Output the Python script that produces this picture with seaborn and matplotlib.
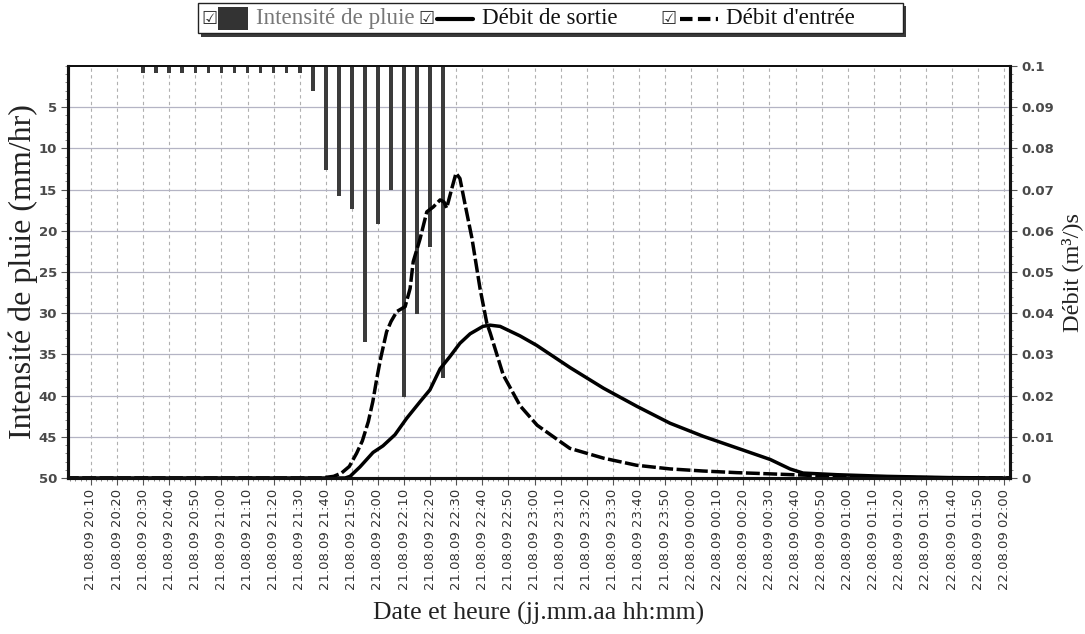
import matplotlib
matplotlib.use("Agg")
import matplotlib.pyplot as plt
from matplotlib.patches import Rectangle
from matplotlib.lines import Line2D
from matplotlib.ticker import MultipleLocator
import pandas as pd
import seaborn as sns

# ---- data -----------------------------------------------------------------
# time axis in minutes after 21.08.09 20:00

# rainfall intensity (mm/hr), 5-minute blocks
rain_minutes = [30, 35, 40, 45, 50, 55, 60, 65, 70, 75, 80, 85,
                90, 95, 100, 105, 110, 115, 120, 125, 130, 135, 140, 145]
rain_mm_hr = [0.8, 0.8, 0.8, 0.8, 0.8, 0.8, 0.8, 0.8, 0.8, 0.8, 0.8, 0.8,
              0.8, 3.0, 12.6, 15.8, 17.3, 33.5, 19.2, 15.1, 40.2, 30.1, 22.0, 37.9]

# inflow (m3/s)
inflow_minutes = [0, 98, 103, 106, 109, 111.8, 114, 116.3, 118, 119.5, 121,
                  123.3, 125, 127.2, 130.4, 132.3, 133.5, 136.1, 138.7, 141.2,
                  143.8, 145.3, 146.3, 148.3, 149.9, 151.4, 153.4, 156, 159.1,
                  161.7, 163, 168, 174.5, 181, 193.5, 206.5, 219, 232, 244.5,
                  257.5, 270.5, 283, 301, 320, 362]
inflow_m3s = [0, 0, 0.0004, 0.0012, 0.0028, 0.0060, 0.0090, 0.0137, 0.0185,
              0.0240, 0.0290, 0.0355, 0.0380, 0.0404, 0.0416, 0.0460, 0.0525,
              0.0580, 0.0646, 0.0658, 0.0675, 0.0670, 0.0655, 0.0703, 0.0740,
              0.0727, 0.0663, 0.0582, 0.0460, 0.0376, 0.0352, 0.0250, 0.0175,
              0.0128, 0.0072, 0.0048, 0.0031, 0.0022, 0.0017, 0.0013, 0.0010,
              0.0007, 0.0003, 0.0001, 0]

# outflow (m3/s)
outflow_minutes = [0, 107.4, 109.3, 113.1, 118.1, 121.9, 126.5, 131, 136.1,
                   139.9, 143.8, 147.6, 151.4, 155.3, 160.2, 162.9, 166.8,
                   174.4, 180.8, 193.6, 206.4, 219.2, 231.9, 244.7, 257.5,
                   270.3, 277.9, 282.9, 295.9, 315.1, 339, 362]
outflow_m3s = [0, 0, 0.0004, 0.0027, 0.0062, 0.0078, 0.0105, 0.0145, 0.0185,
               0.0214, 0.0265, 0.0295, 0.0327, 0.0350, 0.0368, 0.0371, 0.0368,
               0.0345, 0.0322, 0.0268, 0.0218, 0.0174, 0.0133, 0.0101, 0.0073,
               0.0045, 0.0022, 0.0012, 0.0008, 0.0004, 0.0001, 0]

# axis ticks
x_tick_minutes = list(range(10, 361, 10))
x_tick_labels = list(pd.date_range("2009-08-21 20:10", "2009-08-22 02:00",
                                   freq="10min").strftime("%d.%m.%y %H:%M"))
rain_ticks = [5, 10, 15, 20, 25, 30, 35, 40, 45, 50]
rain_tick_labels = ["5", "10", "15", "20", "25", "30", "35", "40", "45", "50"]
flow_ticks = [0, 0.01, 0.02, 0.03, 0.04, 0.05, 0.06, 0.07, 0.08, 0.09, 0.1]
flow_tick_labels = ["0", "0.01", "0.02", "0.03", "0.04", "0.05", "0.06",
                    "0.07", "0.08", "0.09", "0.1"]

# ---- figure ---------------------------------------------------------------
sns.set_style("white")
plt.rcParams["font.family"] = ["DejaVu Sans"]
SERIF = ["Liberation Serif", "DejaVu Serif"]

W, H = 1085, 634
fig = plt.figure(figsize=(W / 100, H / 100), dpi=100)
L, R, T, B = 68, 1010, 66, 478
ax = fig.add_axes([L / W, 1 - B / H, (R - L) / W, (B - T) / H])

# rainfall bars hanging from the top of the inverted left axis
sns.barplot(x=rain_minutes, y=rain_mm_hr, native_scale=True, width=0.28,
            color="#3b3b3b", saturation=1, linewidth=0, errorbar=None, ax=ax)
ax.set_xlim(1.2, 362.2)
ax.set_ylim(50, 0)
ax.set_axisbelow(True)

ax.set_xticks(x_tick_minutes)
ax.set_xticklabels(x_tick_labels, rotation=90, fontsize=9.5, color="#333333")
ax.xaxis.set_minor_locator(MultipleLocator(2))
ax.set_yticks(rain_ticks)
ax.set_yticklabels(rain_tick_labels, fontsize=9.5, color="#4a4a4a",
                   fontweight="bold")
ax.yaxis.set_minor_locator(MultipleLocator(1))
ax.tick_params(which="major", direction="out", length=5, width=0.8,
               color="#555555", left=True, bottom=True, pad=3)
ax.tick_params(which="minor", direction="out", length=2.5, width=0.6,
               color="#777777", left=True, bottom=True)
ax.grid(axis="y", which="major", color="#b4b4c4", lw=0.9, ls="-")
ax.grid(axis="x", which="major", color="#b0b0b0", lw=0.8, ls=(0, (3, 3)))
ax.set_xlabel("Date et heure (jj.mm.aa hh:mm)", family=SERIF, fontsize=18.5,
              color="#222222", labelpad=8)
ax.set_ylabel("Intensité de pluie (mm/hr)", family=SERIF, fontsize=23,
              color="#222222")
ax.yaxis.set_label_coords(-0.032, 0.5)

# flows on the right-hand axis
ax2 = ax.twinx()
sns.lineplot(x=outflow_minutes, y=outflow_m3s, color="black", lw=2.5,
             estimator=None, ax=ax2)
sns.lineplot(x=inflow_minutes, y=inflow_m3s, color="black", lw=2.5,
             linestyle=(0, (4, 1)), estimator=None, ax=ax2)
ax2.set_ylim(0, 0.1)
ax2.set_xlim(1.2, 362.2)
ax2.set_yticks(flow_ticks)
ax2.set_yticklabels(flow_tick_labels, fontsize=9.5, color="#4a4a4a",
                    fontweight="bold")
ax2.yaxis.set_minor_locator(MultipleLocator(0.002))
ax2.tick_params(which="major", direction="out", length=5, width=0.8,
                color="#555555", right=True, pad=3)
ax2.tick_params(which="minor", direction="out", length=2.5, width=0.6,
                color="#777777", right=True)
ax2.grid(False)
ax2.set_ylabel("Débit (m³/)s", family=SERIF, fontsize=17.5, color="#222222",
               labelpad=5)

for a in (ax, ax2):
    for side, sp in a.spines.items():
        sp.set_visible(True)
        sp.set_color("#111111")
        sp.set_linewidth(1.4 if side == "top" else 2.2)

# ---- legend box at the top ------------------------------------------------
def fx(x):
    return x / W


def fy(y):
    return 1 - y / H


fig.add_artist(Rectangle((fx(201), fy(37)), fx(906) - fx(201), fy(6) - fy(37),
                         transform=fig.transFigure, facecolor="#3a3a3a",
                         edgecolor="none"))
fig.add_artist(Rectangle((fx(198), fy(33)), fx(903) - fx(198), fy(3) - fy(33),
                         transform=fig.transFigure, facecolor="white",
                         edgecolor="#222222", lw=1.0))

ymid = fy(18.5)
for cx in (209, 426, 668):
    fig.text(fx(cx), ymid, "☑", ha="center", va="center", fontsize=13,
             color="#333333", family=["DejaVu Sans"])
fig.add_artist(Rectangle((fx(218), fy(30)), fx(248) - fx(218), fy(7) - fy(30),
                         transform=fig.transFigure, facecolor="#333333",
                         edgecolor="none"))
fig.text(fx(256), ymid, "Intensité de pluie", ha="left", va="center",
         fontsize=16.6, color="#777777", family=SERIF)
fig.add_artist(Line2D([fx(437), fx(473)], [ymid, ymid], color="black", lw=3,
                      transform=fig.transFigure))
fig.text(fx(482), ymid, "Débit de sortie", ha="left", va="center",
         fontsize=16.6, color="#111111", family=SERIF)
fig.add_artist(Line2D([fx(680), fx(718)], [ymid, ymid], color="black", lw=3,
                      linestyle=(0, (3, 1.3)), transform=fig.transFigure))
fig.text(fx(726), ymid, "Débit d'entrée", ha="left", va="center",
         fontsize=16.6, color="#111111", family=SERIF)

fig.savefig("out.png", dpi=100)
